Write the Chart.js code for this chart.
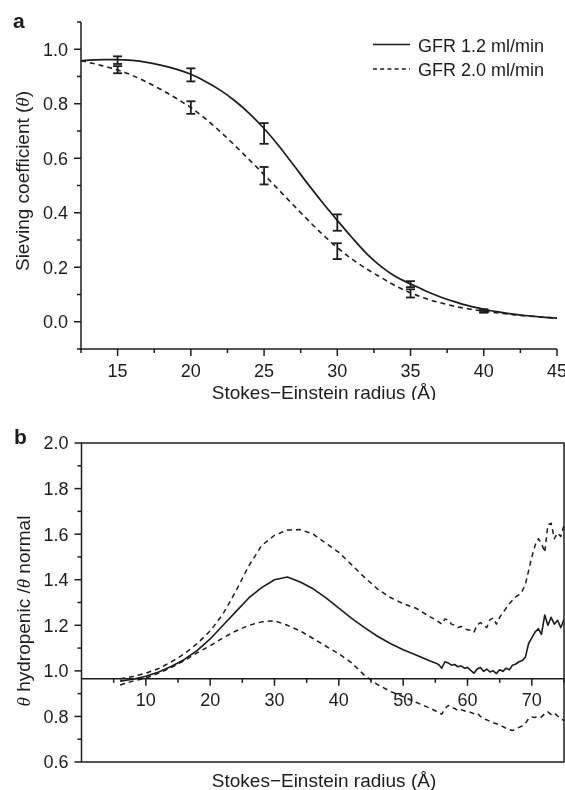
<!DOCTYPE html>
<html><head><meta charset="utf-8">
<script src="https://cdn.jsdelivr.net/npm/chart.js@4.4.1/dist/chart.umd.min.js"></script>
<style>
html,body{margin:0;padding:0;background:#fff;width:565px;height:790px;overflow:hidden}
#wa{position:absolute;left:0;top:0;width:565px;height:400px}
#wb{position:absolute;left:0;top:400px;width:565px;height:390px}
canvas{display:block}
</style></head><body>
<div id="wa"><canvas id="ca" width="565" height="400"></canvas></div>
<div id="wb"><canvas id="cb" width="565" height="390"></canvas></div>
<script>
// ---------- Panel a data ----------
const radiusA = [12.5,13,14,15,16,17,18,19,20,21,22,23,24,25,26,27,28,29,30,31,32,33,34,35,36,37,38,39,40,41,42,43,44,45];
const sievingGFR12 = [0.958,0.960,0.962,0.962,0.959,0.952,0.941,0.927,0.908,0.882,0.850,0.811,0.764,0.709,0.646,0.576,0.505,0.437,0.372,0.309,0.250,0.202,0.165,0.139,0.114,0.092,0.074,0.058,0.046,0.036,0.028,0.022,0.017,0.013];
const sievingGFR20 = [0.958,0.952,0.939,0.924,0.904,0.879,0.851,0.820,0.786,0.745,0.698,0.647,0.594,0.540,0.484,0.428,0.373,0.320,0.272,0.230,0.194,0.162,0.131,0.106,0.086,0.070,0.057,0.047,0.039,0.032,0.026,0.021,0.017,0.013];
const errRadius = [15,20,25,30,35,40];
const errMean12 = [0.960,0.906,0.691,0.364,0.138,0.041];
const errSD12   = [0.014,0.024,0.038,0.030,0.011,0.005];
const errMean20 = [0.925,0.786,0.536,0.259,0.104,0.038];
const errSD20   = [0.013,0.023,0.032,0.029,0.015,0.005];
const seriesNamesA = ['GFR 1.2 ml/min','GFR 2.0 ml/min'];
const xTicksA = [15,20,25,30,35,40,45];
const xTickLabelsA = ['15','20','25','30','35','40','45'];
const xMinorA = [12.5,17.5,22.5,27.5,32.5,37.5,42.5];
const yTicksA = [0,0.2,0.4,0.6,0.8,1.0];
const yTickLabelsA = ['0.0','0.2','0.4','0.6','0.8','1.0'];
const yMinorA = [-0.1,0.1,0.3,0.5,0.7,0.9,1.1];

// ---------- Panel b data ----------
const radiusB = [6,8,10,12,14,16,18,20,22,24,26,28,30,32,34,36,38,40,42,44,46,48,50,52,54,
  55,55.5,56,56.5,57,57.5,58,58.5,59,59.5,60,60.5,61,61.5,62,62.5,63,63.5,64,64.5,65,65.5,66,66.5,67,67.5,68,68.5,69,69.5,70,70.5,71,71.5,72,72.5,73,73.5,74,74.5,75];
const ratioMid = [0.955,0.963,0.976,0.995,1.02,1.05,1.09,1.14,1.20,1.26,1.32,1.365,1.40,1.412,1.39,1.36,1.32,1.275,1.23,1.19,1.152,1.12,1.093,1.07,1.045,
  1.035,1.028,1.012,1.04,1.035,1.025,1.028,1.018,1.022,1.012,1.015,1.002,0.99,1.008,1.015,0.998,1.008,0.995,1.0,0.988,1.005,0.998,1.012,1.005,1.025,1.03,1.04,1.045,1.06,1.12,1.145,1.17,1.185,1.16,1.245,1.20,1.235,1.205,1.222,1.19,1.225];
const ratioUpper = [0.965,0.975,0.99,1.01,1.04,1.075,1.12,1.175,1.25,1.35,1.46,1.55,1.595,1.618,1.62,1.60,1.56,1.52,1.465,1.41,1.36,1.322,1.295,1.275,1.24,
  1.225,1.215,1.205,1.228,1.222,1.205,1.20,1.19,1.195,1.185,1.18,1.178,1.17,1.20,1.212,1.20,1.19,1.225,1.232,1.205,1.235,1.255,1.275,1.295,1.31,1.325,1.335,1.35,1.38,1.44,1.50,1.55,1.58,1.56,1.52,1.64,1.648,1.58,1.605,1.59,1.64];
const ratioLower = [0.938,0.955,0.968,0.99,1.015,1.045,1.08,1.11,1.145,1.175,1.20,1.215,1.22,1.20,1.175,1.142,1.108,1.075,1.035,0.98,0.94,0.91,0.887,0.862,0.838,
  0.825,0.815,0.81,0.835,0.848,0.838,0.835,0.826,0.83,0.825,0.82,0.818,0.812,0.815,0.80,0.79,0.785,0.778,0.772,0.768,0.762,0.755,0.748,0.742,0.738,0.745,0.752,0.758,0.77,0.79,0.798,0.795,0.80,0.798,0.812,0.82,0.808,0.815,0.802,0.79,0.782];
const xTicksB = [10,20,30,40,50,60,70];
const xTickLabelsB = ['10','20','30','40','50','60','70'];
const xMinorB = [5,15,25,35,45,55,65,75];
const yTicksB = [0.6,0.8,1.0,1.2,1.4,1.6,1.8,2.0];
const yTickLabelsB = ['0.6','0.8','1.0','1.2','1.4','1.6','1.8','2.0'];
const yMinorB = [0.7,0.9,1.1,1.3,1.5,1.7,1.9];
const xAxisCrossB = 0.965;

// ---------- drawing helpers ----------
const SANS = '"Liberation Sans", Arial, Helvetica, sans-serif';
const SERIF_IT = 'italic 19px "Liberation Serif", "DejaVu Serif", serif';
const INK = '#1c1c1c';
function seg(ctx,x1,y1,x2,y2){ctx.beginPath();ctx.moveTo(x1,y1);ctx.lineTo(x2,y2);ctx.stroke();}
function rich(ctx, parts, cx, y){
  let w = 0;
  parts.forEach(p=>{ctx.font=p.f; p.w=ctx.measureText(p.t).width; w+=p.w;});
  let x = cx - w/2;
  parts.forEach(p=>{ctx.font=p.f; ctx.fillText(p.t, x, y); x+=p.w;});
}
function ticksY(ctx, ca, ys, vals, len){ vals.forEach(v=>{const p=ys.getPixelForValue(v); seg(ctx, ca.left-len, p, ca.left, p);}); }
function ticksX(ctx, xs, yPix, vals, len){ vals.forEach(v=>{const p=xs.getPixelForValue(v); seg(ctx, p, yPix, p, yPix+len);}); }
function labelsY(ctx, ca, ys, vals, labels){
  ctx.font = '18px '+SANS; ctx.textAlign='right'; ctx.textBaseline='alphabetic';
  vals.forEach((v,i)=>{ctx.fillText(labels[i], ca.left-13, ys.getPixelForValue(v)+6.4);});
}
function labelsX(ctx, xs, yPix, vals, labels){
  ctx.font = '18px '+SANS; ctx.textAlign='center'; ctx.textBaseline='alphabetic';
  vals.forEach((v,i)=>{ctx.fillText(labels[i], xs.getPixelForValue(v), yPix+27.5);});
}

const panelA = {
  id:'panelA',
  afterDatasetsDraw(chart){
    const {ctx} = chart, xs = chart.scales.x, ys = chart.scales.y;
    ctx.save(); ctx.strokeStyle = INK; ctx.lineWidth = 1.8;
    [[errMean12,errSD12],[errMean20,errSD20]].forEach(([m,s])=>{
      errRadius.forEach((r,i)=>{
        const px = xs.getPixelForValue(r), t = ys.getPixelForValue(m[i]+s[i]), b = ys.getPixelForValue(m[i]-s[i]);
        seg(ctx, px, t, px, b); seg(ctx, px-4.5, t, px+4.5, t); seg(ctx, px-4.5, b, px+4.5, b);
      });
    });
    ctx.restore();
  },
  afterDraw(chart){
    const {ctx, chartArea:ca} = chart, xs = chart.scales.x, ys = chart.scales.y;
    ctx.save(); ctx.strokeStyle = INK; ctx.fillStyle = INK; ctx.lineWidth = 1.5;
    seg(ctx, ca.left, ca.top, ca.left, ca.bottom+0.75);
    seg(ctx, ca.left-0.75, ca.bottom, ca.right, ca.bottom);
    ticksY(ctx, ca, ys, yTicksA, 7); ticksY(ctx, ca, ys, yMinorA, 4);
    ticksX(ctx, xs, ca.bottom, xTicksA, 7); ticksX(ctx, xs, ca.bottom, xMinorA, 4);
    labelsY(ctx, ca, ys, yTicksA, yTickLabelsA);
    labelsX(ctx, xs, ca.bottom, xTicksA, xTickLabelsA);
    ctx.textAlign='left'; ctx.textBaseline='alphabetic';
    rich(ctx, [{t:'Stokes\u2212Einstein radius (\u00C5)', f:'19px '+SANS}], 324, 399);
    ctx.save(); ctx.translate(29, 181); ctx.rotate(-Math.PI/2);
    rich(ctx, [{t:'Sieving coefficient (', f:'19px '+SANS},{t:'\u03B8', f:SERIF_IT},{t:')', f:'19px '+SANS}], 0, 0);
    ctx.restore();
    ctx.font = 'bold 21px '+SANS; ctx.textAlign='left'; ctx.fillText('a', 13, 28);
    // legend
    ctx.lineWidth = 1.6;
    seg(ctx, 373, 44.5, 410, 44.5);
    ctx.setLineDash([4,3.2]); seg(ctx, 373, 69, 410, 69); ctx.setLineDash([]);
    ctx.font = '18px '+SANS; ctx.textAlign='left';
    ctx.fillText(seriesNamesA[0], 418, 51.5);
    ctx.fillText(seriesNamesA[1], 418, 76);
    ctx.restore();
  }
};

const panelB = {
  id:'panelB',
  afterDraw(chart){
    const {ctx, chartArea:ca} = chart, xs = chart.scales.x, ys = chart.scales.y;
    ctx.save(); ctx.strokeStyle = INK; ctx.fillStyle = INK; ctx.lineWidth = 1.5;
    ctx.strokeRect(ca.left, ca.top, ca.right-ca.left, ca.bottom-ca.top);
    const ax = ys.getPixelForValue(xAxisCrossB);
    seg(ctx, ca.left, ax, ca.right, ax);
    ticksY(ctx, ca, ys, yTicksB, 7); ticksY(ctx, ca, ys, yMinorB, 4);
    ticksX(ctx, xs, ax, xTicksB, 7); ticksX(ctx, xs, ax, xMinorB, 4);
    labelsY(ctx, ca, ys, yTicksB, yTickLabelsB);
    labelsX(ctx, xs, ax, xTicksB, xTickLabelsB);
    ctx.textAlign='left'; ctx.textBaseline='alphabetic';
    rich(ctx, [{t:'Stokes\u2212Einstein radius (\u00C5)', f:'19px '+SANS}], 324, 386.5);
    ctx.save(); ctx.translate(30, 211); ctx.rotate(-Math.PI/2);
    rich(ctx, [{t:'\u03B8', f:SERIF_IT},{t:' hydropenic /', f:'19px '+SANS},{t:'\u03B8', f:SERIF_IT},{t:' normal', f:'19px '+SANS}], 0, 0);
    ctx.restore();
    ctx.font = 'bold 21px '+SANS; ctx.textAlign='left'; ctx.fillText('b', 14, 43.5);
    ctx.restore();
  }
};

function pts(xa, ya){ return xa.map((x,i)=>({x, y:ya[i]})); }
const common = {pointRadius:0, borderColor:INK, backgroundColor:INK, fill:false, borderJoinStyle:'round'};

new Chart(document.getElementById('ca'), {
  type:'line',
  data:{datasets:[
    Object.assign({label:seriesNamesA[0], data:pts(radiusA, sievingGFR12), borderWidth:1.7, cubicInterpolationMode:'monotone'}, common),
    Object.assign({label:seriesNamesA[1], data:pts(radiusA, sievingGFR20), borderWidth:1.6, borderDash:[5,4], cubicInterpolationMode:'monotone'}, common)
  ]},
  options:{
    responsive:false, animation:false, devicePixelRatio:1, events:[],
    layout:{padding:{left:81, top:22, right:8, bottom:51}},
    plugins:{legend:{display:false}, tooltip:{enabled:false}},
    scales:{
      x:{type:'linear', min:12.5, max:45, display:false},
      y:{type:'linear', min:-0.1, max:1.1, display:false}
    }
  },
  plugins:[panelA]
});

new Chart(document.getElementById('cb'), {
  type:'line',
  data:{datasets:[
    Object.assign({label:'mid', data:pts(radiusB, ratioMid), borderWidth:1.6, tension:0}, common),
    Object.assign({label:'upper', data:pts(radiusB, ratioUpper), borderWidth:1.5, borderDash:[5,4], tension:0}, common),
    Object.assign({label:'lower', data:pts(radiusB, ratioLower), borderWidth:1.5, borderDash:[5,4], tension:0}, common)
  ]},
  options:{
    responsive:false, animation:false, devicePixelRatio:1, events:[],
    layout:{padding:{left:81.5, top:43, right:1, bottom:28}},
    plugins:{legend:{display:false}, tooltip:{enabled:false}},
    scales:{
      x:{type:'linear', min:0, max:75, display:false},
      y:{type:'linear', min:0.6, max:2.0, display:false}
    }
  },
  plugins:[panelB]
});
</script>
</body></html>
